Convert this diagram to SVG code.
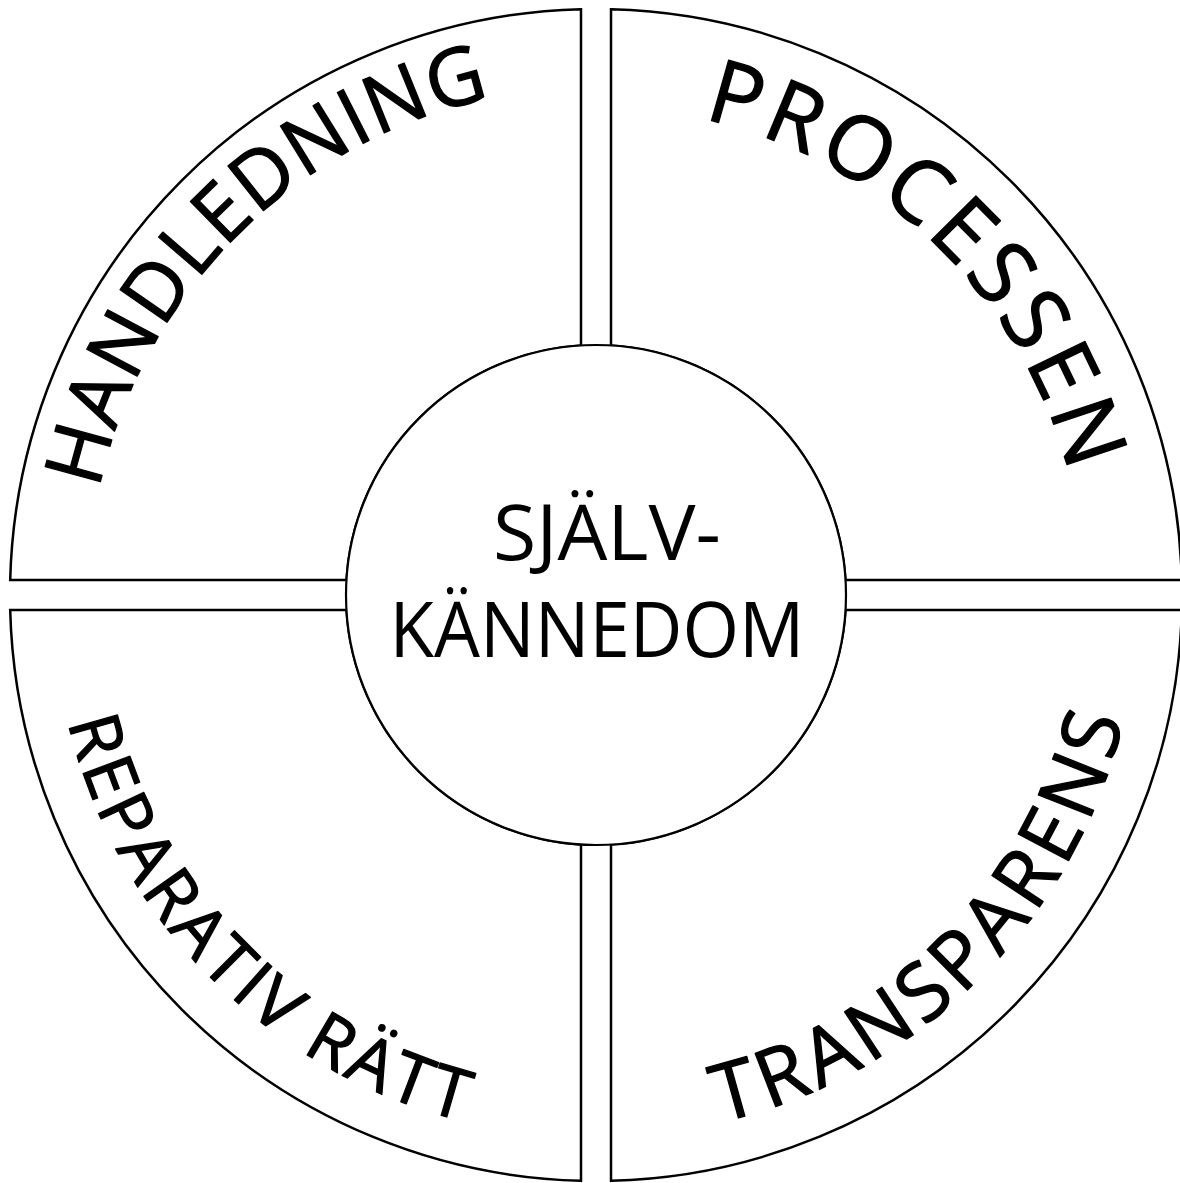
<svg xmlns="http://www.w3.org/2000/svg" width="1180" height="1183" viewBox="0 0 1180 1183">
<style>
.q{fill:#fff;stroke:#000;stroke-width:2.5;stroke-linejoin:miter}
.c{fill:#fff;stroke:#000;stroke-width:2.2}
.t{font-family:"Open Sans","Noto Sans",sans-serif;fill:#000;text-anchor:middle}
.a{stroke:#000;stroke-width:1.3;stroke-linejoin:round}
</style>
<defs>
<path id="pH" d="M 88,595 A 508 508 0 0 1 1104,595"/>
<path id="pP" d="M 108,595 A 488 488 0 0 1 1084,595"/>
<path id="pR" d="M 53,595 A 543 543 0 0 0 1139,595"/>
<path id="pT" d="M 54,595 A 542 542 0 0 0 1138,595"/>
</defs>
<rect width="1180" height="1183" fill="#fff"/>
<g id="q-handledning">
<path class="q" d="M 581,345.45 V 9.19 A 586 586 0 0 0 10.19,580 H 346.45 A 250 250 0 0 1 581,345.45 Z"/>
<text class="t a" font-size="80"><textPath href="#pH" startOffset="25%" textLength="585" lengthAdjust="spacing">HANDLEDNING</textPath></text>
</g>
<g id="q-processen">
<path class="q" d="M 611,345.45 V 9.19 A 586 586 0 0 1 1181.81,580 H 845.55 A 250 250 0 0 0 611,345.45 Z"/>
<text class="t a" font-size="88"><textPath href="#pP" startOffset="74.5%" textLength="535" lengthAdjust="spacing">PROCESSEN</textPath></text>
</g>
<g id="q-transparens">
<path class="q" d="M 611,844.55 V 1180.81 A 586 586 0 0 0 1181.81,610 H 845.55 A 250 250 0 0 1 611,844.55 Z"/>
<text class="t a" font-size="80"><textPath href="#pT" startOffset="75%" textLength="600" lengthAdjust="spacing">TRANSPARENS</textPath></text>
</g>
<g id="q-reparativ">
<path class="q" d="M 581,844.55 V 1180.81 A 586 586 0 0 1 10.19,610 H 346.45 A 250 250 0 0 0 581,844.55 Z"/>
<text class="t a" font-size="70"><textPath href="#pR" startOffset="24.8%" textLength="590" lengthAdjust="spacing">REPARATIV RÄTT</textPath></text>
</g>
<g id="center">
<circle class="c" cx="596" cy="595" r="250"/>
<text class="t" font-size="76" x="607" y="560" textLength="228" lengthAdjust="spacingAndGlyphs">SJÄLV-</text>
<text class="t" font-size="76" x="597" y="657" textLength="415" lengthAdjust="spacingAndGlyphs">KÄNNEDOM</text>
</g>
</svg>
